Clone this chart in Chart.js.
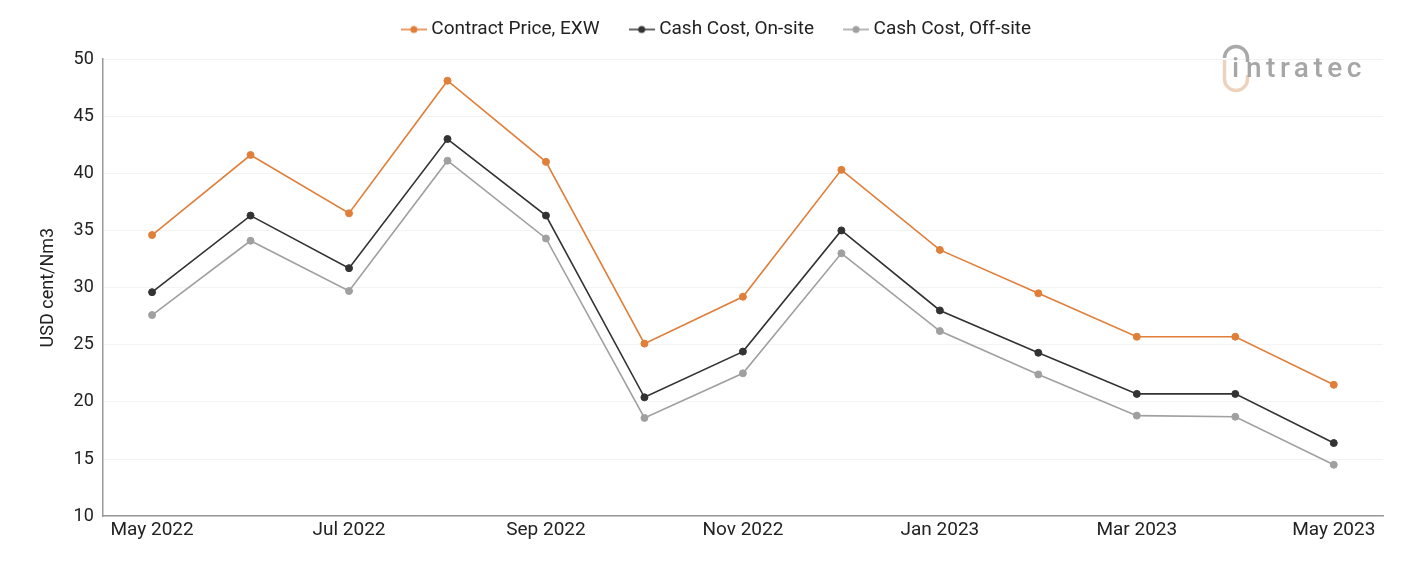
<!DOCTYPE html>
<html>
<head>
<meta charset="utf-8">
<script src="https://cdn.jsdelivr.net/npm/chart.js@4.4.0/dist/chart.umd.min.js"></script>
<style>
  html, body { margin: 0; padding: 0; background: #fff; }
  #wrap { width: 1401px; height: 561px; position: relative; }
</style>
</head>
<body>
<div id="wrap"><canvas id="priceChart"></canvas></div>
<script>
const months = ['May 2022', 'Jun 2022', 'Jul 2022', 'Aug 2022', 'Sep 2022', 'Oct 2022', 'Nov 2022',
                'Dec 2022', 'Jan 2023', 'Feb 2023', 'Mar 2023', 'Apr 2023', 'May 2023'];
const contractPrice = [34.6, 41.6, 36.5, 48.1, 41.0, 25.1, 29.2, 40.3, 33.3, 29.5, 25.7, 25.7, 21.5];
const cashOnSite    = [29.6, 36.3, 31.7, 43.0, 36.3, 20.4, 24.4, 35.0, 28.0, 24.3, 20.7, 20.7, 16.4];
const cashOffSite   = [27.6, 34.1, 29.7, 41.1, 34.3, 18.6, 22.5, 33.0, 26.2, 22.4, 18.8, 18.7, 14.5];
const yTicks = [10, 15, 20, 25, 30, 35, 40, 45, 50];
const seriesColors = ['#e07f3a', '#333333', '#a0a0a0'];

// little line-with-dot glyph for the legend
function legendIcon(color) {
    const c = document.createElement('canvas');
    c.width = 26; c.height = 10;
    const g = c.getContext('2d');
    g.strokeStyle = color; g.lineWidth = 1.5;
    g.beginPath(); g.moveTo(0, 5); g.lineTo(26, 5); g.stroke();
    g.fillStyle = color;
    g.beginPath(); g.arc(13, 5, 3.5, 0, Math.PI * 2); g.fill();
    return c;
}
const icons = seriesColors.map(legendIcon);

const logoPlugin = {
    id: 'logo',
    afterDraw(chart) {
        const g = chart.ctx;
        g.save();
        g.lineWidth = 3.5;
        g.lineCap = 'butt';
        g.strokeStyle = '#a9a9a9';
        g.beginPath(); g.arc(1236, 58, 11.5, Math.PI, Math.PI * 2); g.stroke();
        g.beginPath(); g.moveTo(1247.5, 58); g.lineTo(1247.5, 62); g.stroke();
        g.strokeStyle = '#edd3bd';
        g.beginPath(); g.moveTo(1224.5, 60); g.lineTo(1224.5, 79); g.stroke();
        g.beginPath(); g.arc(1236, 79, 11.5, 0, Math.PI); g.stroke();
        g.beginPath(); g.moveTo(1247.5, 79); g.lineTo(1247.5, 75); g.stroke();
        g.font = '500 28px Roboto';
        g.fillStyle = '#a6a6a6';
        g.textBaseline = 'alphabetic';
        g.fillText('i', 1232, 77);
        g.letterSpacing = '4.5px';
        g.fillText('ntratec', 1246, 77);
        g.restore();
    }
};

// legend spacing: shrink its box and nudge it up / right
const legendTweak = {
    id: 'legendTweak',
    beforeInit(chart) {
        const fit = chart.legend.fit;
        chart.legend.fit = function() {
            fit.bind(chart.legend)();
            this.height -= 4;
        };
    },
    afterLayout(chart) {
        const lg = chart.legend;
        lg.top -= 14; lg.bottom -= 14;
        lg.left += 13; lg.right += 13;
    }
};

const ctx = document.getElementById('priceChart').getContext('2d');
new Chart(ctx, {
    type: 'line',
    data: {
        labels: months,
        datasets: [
            { label: 'Contract Price, EXW', data: contractPrice, borderColor: seriesColors[0], backgroundColor: seriesColors[0] },
            { label: 'Cash Cost, On-site', data: cashOnSite, borderColor: seriesColors[1], backgroundColor: seriesColors[1] },
            { label: 'Cash Cost, Off-site', data: cashOffSite, borderColor: seriesColors[2], backgroundColor: seriesColors[2] }
        ]
    },
    options: {
        responsive: true,
        maintainAspectRatio: false,
        animation: false,
        layout: { padding: { left: 28, right: 18, top: 0, bottom: 16 } },
        elements: {
            line: { borderWidth: 1.6, tension: 0 },
            point: { radius: 3.5, hoverRadius: 4, pointStyle: 'circle' }
        },
        plugins: {
            legend: {
                position: 'top',
                labels: {
                    usePointStyle: true,
                    pointStyleWidth: 16,
                    font: { family: 'Roboto', size: 19 },
                    color: '#222',
                    boxHeight: 10,
                    padding: 34,
                    generateLabels: function(chart) {
                        const items = Chart.defaults.plugins.legend.labels.generateLabels(chart);
                        items.forEach((it, i) => { it.pointStyle = icons[i]; });
                        return items;
                    }
                }
            },
            tooltip: { enabled: false }
        },
        scales: {
            x: {
                offset: true,
                grid: { display: false, drawTicks: false },
                border: { color: '#999', width: 1.5 },
                ticks: {
                    autoSkip: false,
                    maxRotation: 0,
                    color: '#222',
                    font: { family: 'Roboto', size: 19 },
                    padding: 3,
                    callback: function(value, index) {
                        return index % 2 === 0 ? months[index] : '';
                    }
                }
            },
            y: {
                min: 10,
                max: 50,
                afterBuildTicks: function(axis) {
                    axis.ticks = yTicks.map(v => ({ value: v }));
                },
                grid: { color: '#f3f3f3', drawTicks: false },
                border: { color: '#999', width: 1.5 },
                title: {
                    display: true,
                    text: 'USD cent/Nm3',
                    color: '#222',
                    font: { family: 'Roboto', size: 18 },
                    padding: { top: 10, bottom: 5 }
                },
                ticks: {
                    color: '#222',
                    font: { family: 'Roboto', size: 18 },
                    padding: 9
                }
            }
        }
    },
    plugins: [logoPlugin, legendTweak]
});
</script>
</body>
</html>
